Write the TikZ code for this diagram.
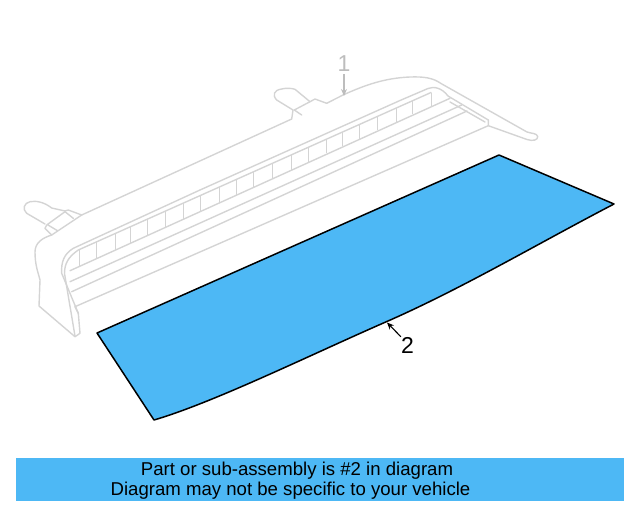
\documentclass[tikz,border=0pt]{standalone}
\usepackage{fontspec}
\setmainfont{Liberation Sans}
\definecolor{partblue}{HTML}{4DB8F5}
\definecolor{ghost}{HTML}{D4D4D4}
\definecolor{ghostlabel}{HTML}{BDBDBD}
\usetikzlibrary{arrows.meta}
\tikzset{
  ghostline/.style={draw=ghost,line width=1.4pt,line join=round,line cap=round},
  thinghost/.style={draw=ghost,line width=1pt},
  partfill/.style={fill=partblue,draw=black,line width=1.5pt,line join=round},
  callout/.style={font=\fontsize{23}{23}\selectfont,inner sep=0pt},
  caption/.style={font=\fontsize{18.6}{19}\selectfont,inner sep=0pt,text=black},
  leader/.style={line width=1.1pt,-{Stealth[length=7pt,width=6pt]}},
}
\begin{document}
\begin{tikzpicture}[x=1pt,y=-1pt]
\useasboundingbox (0,0) rectangle (640,512);
% body outline
\path[ghostline] (81.7,215) -- (291.7,119) -- (293,110);
\path[ghostline] (326.7,103.3) -- (343,95) .. controls (365,85) and (385,78) .. (410,77)
  .. controls (425,76.5) and (433,78) .. (441,83.5) -- (527,132) .. controls (531,133.5) and (537,133) .. (537.7,136.5)
  .. controls (538,140) and (533,141.5) .. (527,139.5) -- (488.3,125.7) -- (488.3,120);
% right inner end
\path[ghostline] (200,190) -- (400,100.5) -- (428,88.5) .. controls (434,86) and (442,88) .. (448,96)
  -- (488.3,120);
\path[ghostline] (450,102) -- (485,122);
% left clip
\path[ghostline] (45,224) -- (26.7,213.3) .. controls (22,209) and (24,203) .. (30,201.7)
  .. controls (36,200.5) and (44,202) .. (51.7,208) -- (65,211) -- (68.3,210) -- (81.7,215);
\path[ghostline] (46.7,225) -- (65,211.7) -- (73.3,218.3)
  (46.7,225) -- (45,228.3) -- (51.7,235) -- (81.7,215)
  (48,225) -- (58,231);
% centre clip
\path[ghostline] (293,110) -- (276.7,100) .. controls (272,95) and (274,90) .. (281.7,89)
  .. controls (286,88) and (291,88) .. (295,89.3) -- (310,101.7) -- (315,99) -- (326.7,103.3);
\path[ghostline] (294.3,110) -- (310,101.7) (294.3,110) -- (301.7,115);
% left end of the body
\path[ghostline] (51.7,235) .. controls (42,238) and (35,243) .. (35,252) .. controls (35,265) and (38,272) .. (40,280)
  -- (39,306) -- (75,336.7) -- (80,333.3) -- (78.3,313.3);
% frame arches
\path[ghostline] (78.3,313.3) -- (61.7,273.3) .. controls (61,262) and (64,254) .. (73.3,248.3) -- (200,190);
\path[ghostline] (75,336) -- (64.5,273.5) .. controls (64.5,264) and (68,257) .. (78.3,250) -- (431,92.5);
% horizontal mouldings
\path[ghostline] (70,270.7) -- (450,98.3);
\path[ghostline] (70,281.7) -- (461.7,105);
\path[ghostline] (71.7,291.7) -- (467,111);
\path[ghostline] (75,306.7) -- (488.3,125.7);
\path[ghostline] (78.3,313.3) -- (75,306.7);
% slats
\foreach \sx in {79.3,96,115,130.7,147,165.7,183.7,200.3,219,236.7,253.3,272.7,291.3,308,326.7,342.7,359.3,377.7,396,412.3,431}{
  \pgfmathsetmacro{\yt}{250-0.446*(\sx-78.3)}
  \pgfmathsetmacro{\yb}{266.4-0.4565*(\sx-79.3)}
  \path[thinghost] (\sx,\yt) -- (\sx,\yb);
}
% the part
\path[partfill] (97,333) -- (499,155) -- (614,204) .. controls (539,243) and (463,288) .. (388,321)
  .. controls (310,355) and (215,402) .. (154,420) -- cycle;
% callouts
\node[callout,text=ghostlabel] (num1) at (344,64) {1};
\coordinate (tip1) at (344,96);
\draw[leader,draw=ghostlabel] (num1.south) ++(0,2) coordinate (from1) (from1) -- (tip1);
\node[callout] (num2) at (407.5,345) {2};
\coordinate (tip2) at (387,322.5);
\draw[leader,draw=black] (num2.north west) -- (tip2);
% caption band
\node[fill=partblue,minimum width=608pt,minimum height=43pt,inner sep=0pt,anchor=north west] (band) at (16,458) {};
\node[caption] (line1) at (297,471) {Part or sub-assembly is \#2 in diagram};
\node[caption] (line2) at (290.5,491) {Diagram may not be specific to your vehicle};
\end{tikzpicture}
\end{document}
